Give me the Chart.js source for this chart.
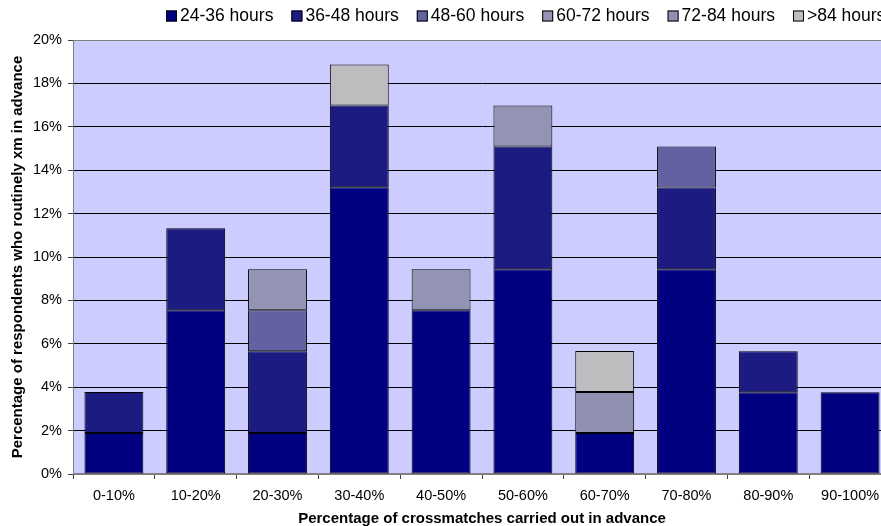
<!DOCTYPE html>
<html>
<head>
<meta charset="utf-8">
<script src="https://cdn.jsdelivr.net/npm/chart.js@4"></script>
<style>
  html, body { margin: 0; padding: 0; background: #ffffff; overflow: hidden; }
  #wrap { width: 900px; height: 526px; }
</style>
</head>
<body>
<div id="wrap"><canvas id="c" width="900" height="526"></canvas></div>
<script>
// Share of respondents (%) per crossmatch-in-advance band, split by lead time
const categories = ['0-10%', '10-20%', '20-30%', '30-40%', '40-50%', '50-60%', '60-70%', '70-80%', '80-90%', '90-100%'];
const seriesNames = ['24-36 hours', '36-48 hours', '48-60 hours', '60-72 hours', '72-84 hours', '>84 hours'];
const h24to36 = [1.89, 7.55, 1.89, 13.21, 7.55, 9.43, 1.89, 9.43, 3.77, 3.77];
const h36to48 = [1.89, 3.77, 3.77, 3.77, null, 5.66, null, 3.77, 1.89, null];
const h48to60 = [null, null, 1.89, null, null, null, null, 1.89, null, null];
const h60to72 = [null, null, 1.89, null, 1.89, 1.89, null, null, null, null];
const h72to84 = [null, null, null, null, null, null, 1.89, null, null, null];
const h84plus = [null, null, null, 1.89, null, null, 1.89, null, null, null];
const yTicks = [0, 2, 4, 6, 8, 10, 12, 14, 16, 18, 20];

const seriesValues = [h24to36, h36to48, h48to60, h60to72, h72to84, h84plus];
const seriesColors = ['#000080', '#1B1B82', '#6262A2', '#9393B3', '#9090B0', '#BDBDC0'];

const FONT = "'Liberation Sans', Arial, sans-serif";

const plotBackground = {
  id: 'plotBackground',
  beforeDraw(chart) {
    const a = chart.chartArea, ctx = chart.ctx;
    ctx.save();
    ctx.fillStyle = '#CCCCFF';
    ctx.fillRect(a.left, a.top, a.right - a.left, a.bottom - a.top);
    ctx.strokeStyle = '#808080';
    ctx.lineWidth = 1;
    ctx.strokeRect(a.left + 0.5, a.top + 0.5, a.right - a.left - 1, a.bottom - a.top - 1);
    ctx.restore();
  }
};

// Legend row across the top, boxes outlined in black
const topLegend = {
  id: 'topLegend',
  afterDraw(chart) {
    const ctx = chart.ctx;
    ctx.save();
    ctx.font = '17.5px ' + FONT;
    ctx.textBaseline = 'middle';
    let x = 166;
    const y = 16;
    chart.data.datasets.forEach(ds => {
      ctx.fillStyle = ds.backgroundColor;
      ctx.fillRect(x, y - 5.5, 11, 11);
      ctx.strokeStyle = '#000';
      ctx.lineWidth = 1;
      ctx.strokeRect(x + 0.5, y - 5 , 10, 10);
      ctx.fillStyle = '#000';
      ctx.fillText(ds.label, x + 14, y);
      x += 14 + ctx.measureText(ds.label).width + 18;
    });
    ctx.restore();
  }
};

new Chart(document.getElementById('c'), {
  type: 'bar',
  data: {
    labels: categories,
    datasets: seriesNames.map((name, i) => ({
      label: name,
      data: seriesValues[i],
      backgroundColor: seriesColors[i],
      borderColor: '#000000',
      borderWidth: 1,
      borderSkipped: false,
      barPercentage: 0.72,
      categoryPercentage: 1.0
    }))
  },
  options: {
    responsive: false,
    animation: false,
    events: [],
    layout: { padding: { top: 40, right: 9, left: 0, bottom: 0 } },
    plugins: {
      legend: { display: false },
      tooltip: { enabled: false }
    },
    scales: {
      x: {
        stacked: true,
        grid: { drawOnChartArea: false, drawTicks: true, tickLength: 5, tickColor: '#404040', offset: true },
        border: { color: '#808080', width: 1 },
        ticks: { color: '#000', font: { family: FONT, size: 14.5 }, padding: 8, maxRotation: 0 },
        title: {
          display: true,
          text: 'Percentage of crossmatches carried out in advance',
          color: '#000',
          font: { family: FONT, size: 15, weight: 'bold', lineHeight: 1 },
          padding: { top: 0, bottom: 0 }
        },
        afterFit(scale) { scale.height = 52; }
      },
      y: {
        stacked: true,
        min: 0,
        max: 20,
        afterBuildTicks(scale) { scale.ticks = yTicks.map(v => ({ value: v })); },
        grid: {
          color: ctx => (ctx.tick && (ctx.tick.value === 0 || ctx.tick.value === 20)) ? '#808080' : '#000000',
          tickLength: 5,
          tickColor: '#404040'
        },
        border: { color: '#808080', width: 1 },
        ticks: {
          color: '#000',
          font: { family: FONT, size: 14.5 },
          padding: 6,
          callback: v => v + '%'
        },
        title: {
          display: true,
          text: 'Percentage of respondents who routinely xm in advance',
          color: '#000',
          font: { family: FONT, size: 15, weight: 'bold', lineHeight: 1 },
          padding: { top: 10, bottom: 0 }
        },
        afterFit(scale) { scale.width = 73; }
      }
    }
  },
  plugins: [plotBackground, topLegend]
});
</script>
</body>
</html>
